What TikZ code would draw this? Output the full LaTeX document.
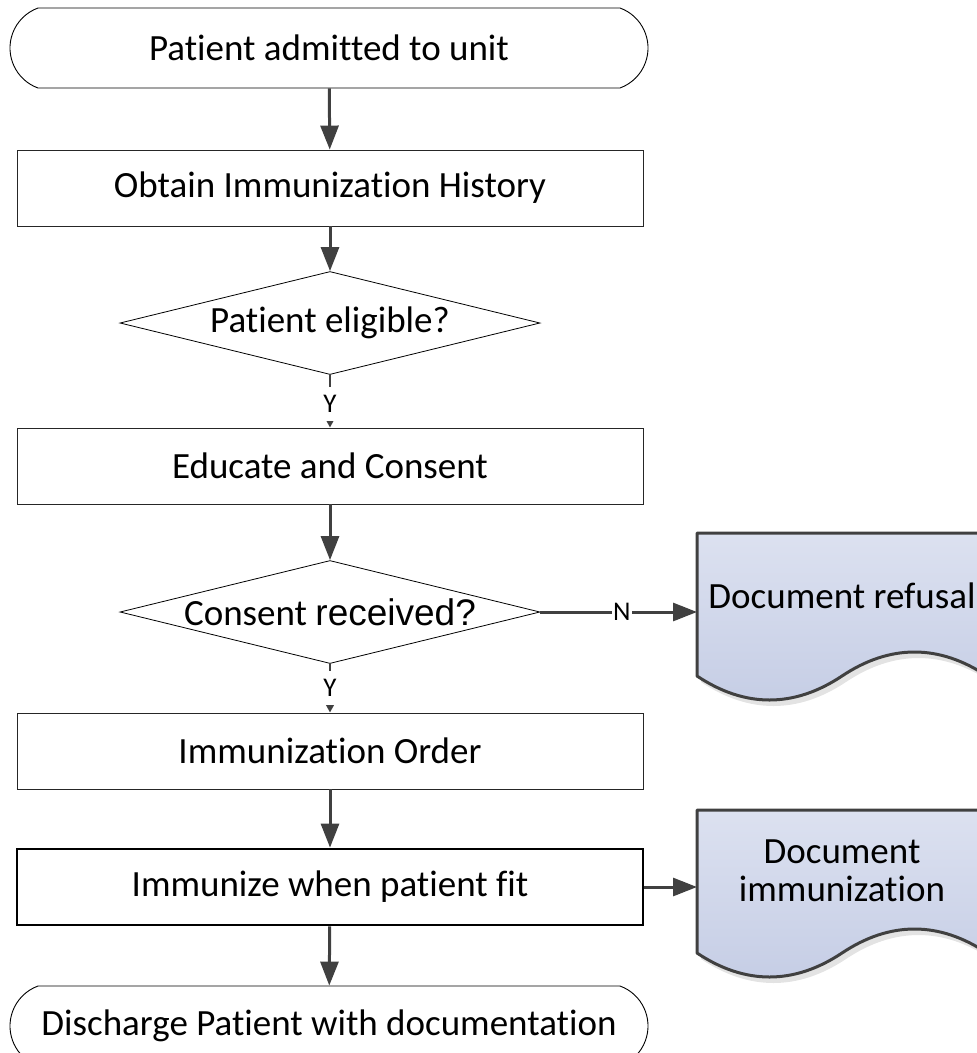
\documentclass[tikz,border=0pt]{standalone}
\usepackage{fontspec}
\setmainfont[Ligatures=NoCommon]{Carlito}
\newfontfamily\arialf{Liberation Sans}
\usetikzlibrary{shapes.geometric,shapes.misc,arrows.meta}
\definecolor{lineg}{HTML}{404040}
\definecolor{doctop}{HTML}{DCE1F0}
\definecolor{docbot}{HTML}{C5CDE5}
\definecolor{shadowg}{HTML}{E3E3E3}
\tikzset{
 big/.style={font=\fontsize{37}{38}\selectfont},
 terminal/.style={rounded rectangle, rounded rectangle arc length=140, draw=black, line width=0.9pt, minimum width=638pt, minimum height=80pt, inner sep=0pt, big},
 procbox/.style={rectangle, draw=black!85, line width=0.9pt, minimum width=626pt, minimum height=76pt, inner sep=0pt, big},
 decision/.style={diamond, draw=black, line width=0.8pt, minimum width=420pt, minimum height=103pt, aspect=4, inner sep=0pt, big},
 flow/.style={draw=lineg, line width=3pt, -{Triangle[length=24pt,width=18pt]}},
 ylink/.style={draw=lineg, line width=2.5pt, -{Triangle[length=8pt,width=8pt]}},
 small/.style={font=\fontsize{27}{30}\selectfont, fill=white, inner sep=1pt},
 doctext/.style={big, align=center, inner sep=0pt},
 docshape/.style={top color=doctop, bottom color=docbot, draw=lineg, line width=3pt, line join=round},
}
\newcommand\docpath[2]{(#1,#2) -- ({#1+290},#2) -- ({#1+290},{#2+143})
  .. controls ({#1+242},{#2+111}) and ({#1+193},{#2+111}) .. ({#1+145},{#2+143})
  .. controls ({#1+97},{#2+175}) and ({#1+48},{#2+175}) .. (#1,{#2+143}) -- cycle}
\begin{document}
\begin{tikzpicture}[x=1pt,y=-1pt]
\useasboundingbox (0,0) rectangle (977,1053);
\clip (0,0) rectangle (977,1053);
% documents
\fill[shadowg, xshift=4pt, yshift=-6pt] \docpath{697}{533};
\path[docshape] \docpath{697}{533};
\fill[shadowg, xshift=4pt, yshift=-6pt] \docpath{697}{810};
\path[docshape] \docpath{697}{810};
\node[doctext] (doc1) at (842,596) {Document refusal};
\node[doctext] (doc2) at (842,871) {Document\\immunization};
\coordinate (doc1in) at (697,612);
\coordinate (doc2in) at (697,887);
% main flow
\node[terminal] (start) at (329,48) {Patient admitted to unit};
\node[procbox] (box1) at (330,188) {Obtain Immunization History};
\node[decision] (d1) at (330,323) {\makebox[0pt]{Patient eligible?}};
\node[procbox] (box2) at (330,466) {Educate and Consent};
\node[decision] (d2) at (330,612) {\makebox[0pt]{Consent {\arialf received?}}};
\node[procbox] (box3) at (330,751) {Immunization Order};
\node[procbox, draw=black, line width=2.8pt] (box4) at (330,887) {Immunize when patient fit};
\node[terminal] (end) at (329,1026) {Discharge Patient with documentation};
% connectors
\draw[flow] (start) -- (box1);
\draw[flow] (box1) -- (d1);
\draw[ylink] (d1.south) -- node[small, minimum height=34pt, pos=0.55]{Y} (box2.north);
\draw[flow] (box2) -- (d2);
\draw[flow] (d2.east) -- node[small, pos=0.52]{N} (doc1in);
\draw[ylink] (d2.south) -- node[small, minimum height=34pt, pos=0.5]{Y} (box3.north);
\draw[flow] (box3) -- (box4);
\draw[flow] (box4.east) -- (doc2in);
\draw[flow] (box4) -- (end);
\end{tikzpicture}
\end{document}
